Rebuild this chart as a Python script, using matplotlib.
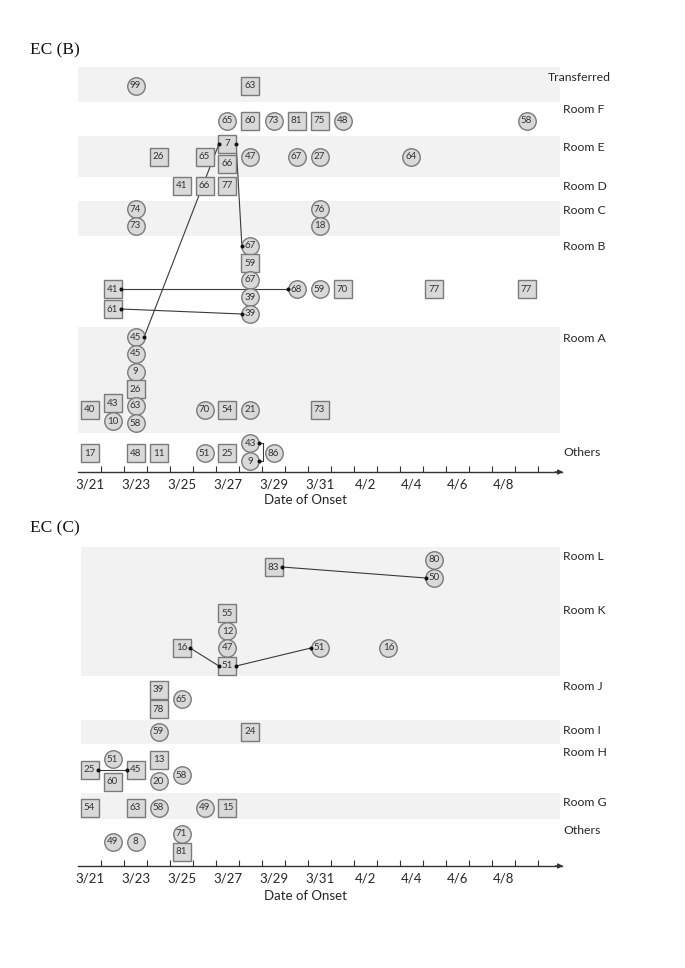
import matplotlib
matplotlib.use("Agg")
import matplotlib.pyplot as plt
import numpy as np

# ---------------- data ----------------
date_labels = ["3/21", "3/23", "3/25", "3/27", "3/29", "3/31", "4/2", "4/4", "4/6", "4/8"]
label_days = [0, 2, 4, 6, 8, 10, 12, 14, 16, 18]

# Panel B rooms: name, top, bottom, shaded, label_y
b_rooms = ["Transferred", "Room F", "Room E", "Room D", "Room C", "Room B", "Room A", "Others"]
b_room_top = [67, 102, 136, 177, 201, 236, 327, 433]
b_room_bot = [102, 136, 177, 201, 236, 327, 433, 470]
b_room_shaded = [True, False, True, False, True, False, True, False]
b_room_label_y = [78, 110, 148, 187, 211, 246, 339, 453]

# Panel B cases: day index (0 = 3/21), vertical level, age, shape
b_day = [2, 7,
         6, 7, 8, 9, 10, 11, 19,
         6, 6, 3, 5, 7, 9, 10, 14,
         4, 5, 6,
         2, 2, 10, 10,
         7, 7, 7, 7, 7, 1, 1, 9, 10, 11, 15, 19,
         2, 2, 2, 2, 2, 2, 0, 1, 1, 5, 6, 7, 10,
         0, 2, 3, 5, 6, 7, 7, 8]
b_lvl = [86, 86,
         121, 121, 121, 121, 121, 121, 121,
         144, 164, 157, 157, 157, 157, 157, 157,
         186, 186, 186,
         209, 226, 209, 226,
         246, 263, 280, 297, 314, 289, 309, 289, 289, 289, 289, 289,
         337, 354, 372, 389, 406, 423, 410, 403, 421, 410, 410, 410, 410,
         453, 453, 453, 453, 453, 443, 461, 453]
b_age = [99, 63,
         65, 60, 73, 81, 75, 48, 58,
         7, 66, 26, 65, 47, 67, 27, 64,
         41, 66, 77,
         74, 73, 76, 18,
         67, 59, 67, 39, 39, 41, 61, 68, 59, 70, 77, 77,
         45, 45, 9, 26, 63, 58, 40, 43, 10, 70, 54, 21, 73,
         17, 48, 11, 51, 25, 43, 9, 86]
b_shape = ["o", "s",
           "o", "s", "o", "s", "s", "o", "o",
           "s", "s", "s", "s", "o", "o", "o", "o",
           "s", "s", "s",
           "o", "o", "o", "o",
           "o", "s", "o", "o", "o", "s", "s", "o", "o", "s", "s", "s",
           "o", "o", "o", "s", "o", "o", "s", "s", "o", "o", "s", "o", "s",
           "s", "s", "s", "o", "s", "o", "o", "o"]
# transmission links (source index -> target index)
b_links = [(36, 9), (9, 24), (29, 31), (30, 28)]
b_bracket = [(54, 55)]

# Panel C rooms
c_rooms = ["Room L", "Room K", "Room J", "Room I", "Room H", "Room G", "Others"]
c_room_top = [547, 595, 676, 720, 744, 793, 819]
c_room_bot = [595, 676, 720, 744, 793, 819, 866]
c_room_shaded = [True, True, False, True, False, True, False]
c_room_label_y = [557, 611, 687, 731, 753, 803, 830]

c_day = [8, 15, 15,
         6, 6, 6, 6, 4, 10, 13,
         3, 3, 4,
         3, 7,
         1, 0, 2, 1, 3, 3, 4,
         0, 2, 3, 5, 6,
         1, 2, 4, 4]
c_lvl = [567, 560, 578,
         613, 631, 648, 666, 648, 648, 648,
         690, 709, 699,
         732, 732,
         759, 770, 770, 782, 760, 781, 775,
         808, 808, 808, 808, 808,
         842, 842, 834, 852]
c_age = [83, 80, 50,
         55, 12, 47, 51, 16, 51, 16,
         39, 78, 65,
         59, 24,
         51, 25, 45, 60, 13, 20, 58,
         54, 63, 58, 49, 15,
         49, 8, 71, 81]
c_shape = ["s", "o", "o",
           "s", "o", "o", "s", "s", "o", "o",
           "s", "s", "o",
           "o", "s",
           "o", "s", "s", "s", "s", "o", "o",
           "s", "s", "o", "o", "s",
           "o", "o", "o", "s"]
c_links = [(0, 2), (7, 6), (6, 8), (16, 17)]
c_bracket = []

# ---------------- style ----------------
FIG_W, FIG_H = 685, 968
DAY_PX = 23.0
SANS = ["Lato", "DejaVu Sans"]
FILL = "#d9d9d9"
EDGE = "#7a7a7a"
BAND = "#f2f2f2"
LINE = "#3a3a3a"
MK_PT = 12.6
HALF = 8.6 / DAY_PX

fig = plt.figure(figsize=(FIG_W / 100, FIG_H / 100), dpi=100)


def make_panel(px_top, px_axis, px_bottom, title, title_y, rooms, r_top, r_bot, r_sh,
               r_ly, days, lvls, ages, shapes, links, brackets, xlab_y, label_x_special,
               band_left):
    left_px, right_px = 78, 562
    ax = fig.add_axes([left_px / FIG_W, 1 - px_bottom / FIG_H,
                       (right_px - left_px) / FIG_W, (px_bottom - px_top) / FIG_H])
    x0 = -0.5
    x1 = x0 + (right_px - left_px) / DAY_PX
    ax.set_xlim(x0, x1)
    ax.set_ylim(px_bottom, px_top)
    ax.patch.set_alpha(0)
    band_right = x0 + (560 - left_px) / DAY_PX
    for name, t, b, sh, ly in zip(rooms, r_top, r_bot, r_sh, r_ly):
        if sh:
            ax.fill_between([band_left, band_right], t, b, color=BAND, lw=0, zorder=0)
        lx = label_x_special.get(name, 563)
        ax.text(x0 + (lx - left_px) / DAY_PX, ly, name, ha="left", va="center",
                fontsize=8.8, family=SANS, color="#262626", clip_on=False)
    # links
    for s, t in links:
        xs = [days[s] + HALF, days[t] - HALF]
        ys = [lvls[s], lvls[t]]
        ax.plot(xs, ys, color=LINE, lw=0.8, zorder=2)
        ax.plot(xs, ys, ls="none", marker="o", ms=1.9, color="#111111", zorder=4)
    for s, t in brackets:
        xr = days[s] + HALF + 0.18
        ax.plot([days[s] + HALF, xr, xr, days[t] + HALF], [lvls[s], lvls[s], lvls[t], lvls[t]],
                color=LINE, lw=0.8, zorder=2)
        ax.plot([days[s] + HALF, days[t] + HALF], [lvls[s], lvls[t]], ls="none",
                marker="o", ms=1.9, color="#111111", zorder=4)
    # markers
    for d, y, a, sh in zip(days, lvls, ages, shapes):
        ax.plot(d, y, marker=sh, ms=MK_PT, mfc=FILL, mec=EDGE, mew=1.0, ls="none", zorder=3)
        ax.text(d, y, str(a), ha="center", va="center", fontsize=7, family=SANS,
                color="#333333", zorder=5)
    # axis
    for sp in ["top", "right", "left"]:
        ax.spines[sp].set_visible(False)
    ax.spines["bottom"].set_position(("data", px_axis))
    ax.spines["bottom"].set_color("#333333")
    ax.spines["bottom"].set_linewidth(1.0)
    ax.set_yticks([])
    ax.set_xticks(label_days)
    ax.set_xticklabels(date_labels, fontsize=9.5, family=SANS, color="#262626")
    ax.set_xticks(np.arange(0.5, 20.0, 1.0), minor=True)
    ax.tick_params(axis="x", which="major", length=0, pad=5)
    ax.tick_params(axis="x", which="minor", direction="in", length=4.5, width=0.8,
                   color="#333333")
    ax.annotate("", xy=(x1 + 0.05, px_axis), xytext=(x1 - 0.3, px_axis),
                arrowprops=dict(arrowstyle="-|>", color="#333333", lw=1.0,
                                mutation_scale=7, shrinkA=0, shrinkB=0),
                annotation_clip=False)
    ax.text(x0 + (305 - left_px) / DAY_PX, xlab_y, "Date of Onset", ha="center",
            va="center", fontsize=9.5, family=SANS, color="#262626", clip_on=False)
    fig.text(30 / FIG_W, 1 - title_y / FIG_H, title, ha="left", va="center",
             fontsize=12.5, family=["Liberation Serif", "DejaVu Serif"], color="#111111")
    return ax


make_panel(60, 472, 510, "EC (B)", 50, b_rooms, b_room_top, b_room_bot, b_room_shaded,
           b_room_label_y, b_day, b_lvl, b_age, b_shape, b_links, b_bracket, 500,
           {"Transferred": 548}, -0.5)
make_panel(540, 866, 905, "EC (C)", 528, c_rooms, c_room_top, c_room_bot, c_room_shaded,
           c_room_label_y, c_day, c_lvl, c_age, c_shape, c_links, c_bracket, 896,
           {}, -0.37)

fig.savefig("out.png", dpi=100)
